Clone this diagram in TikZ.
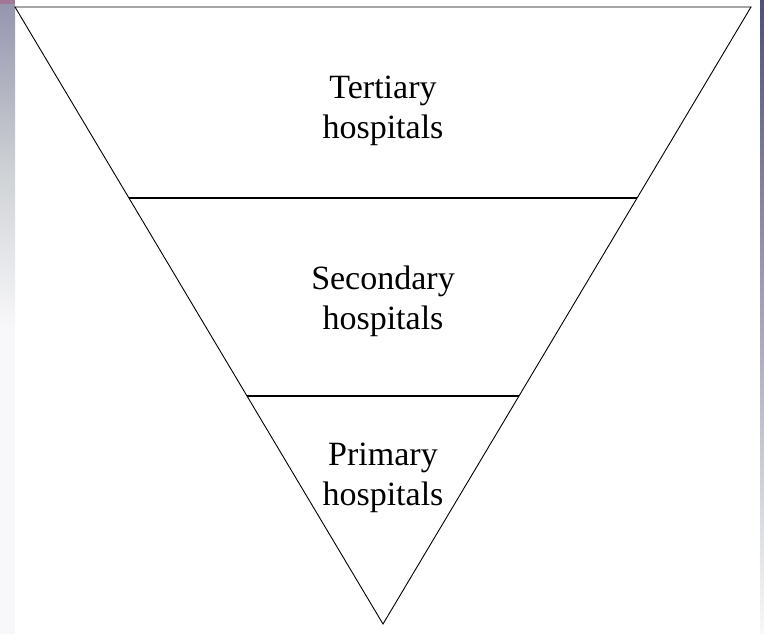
\documentclass[tikz,border=0pt]{standalone}
\usepackage{fontspec}
\setmainfont{Liberation Serif}
\definecolor{stripA}{RGB}{160,120,150}
\definecolor{stripB}{RGB}{150,150,175}
\definecolor{stripC}{RGB}{205,208,212}
\definecolor{stripD}{RGB}{248,248,250}
\definecolor{stripR}{RGB}{80,80,120}
\begin{document}
\begin{tikzpicture}[x=1pt,y=-1pt,
  edge/.style={line width=0.9pt,line join=miter},
  divider/.style={line width=2.3pt},
  label/.style={align=center,font=\fontsize{34}{40}\selectfont,inner sep=0pt}]
\useasboundingbox (0,0) rectangle (764,634);
\fill[white] (0,0) rectangle (764,634);
% side strips of the screenshot
\fill[stripA] (0,0) rectangle (15,5);
\shade[top color=stripB,bottom color=stripD,middle color=stripC] (0,5) rectangle (15,330);
\fill[stripD] (0,330) rectangle (15,634);
\shade[top color=stripR,bottom color=stripD] (760,0) rectangle (764,634);
\coordinate (TL) at (15,7);
\coordinate (TR) at (751,7);
\coordinate (B) at (383,624);
\coordinate (L1) at (129,198);
\coordinate (R1) at (637,198);
\coordinate (L2) at (247,396);
\coordinate (R2) at (519,396);
\draw[edge] (TL) -- (TR) -- (B) -- cycle;
\draw[divider] (L1) -- (R1);
\draw[divider] (L2) -- (R2);
\node[label] (tert) at (383,111) {Tertiary\\hospitals};
\node[label] (sec) at (383,301) {Secondary\\hospitals};
\node[label] (prim) at (383,478) {Primary\\hospitals};
\end{tikzpicture}
\end{document}
